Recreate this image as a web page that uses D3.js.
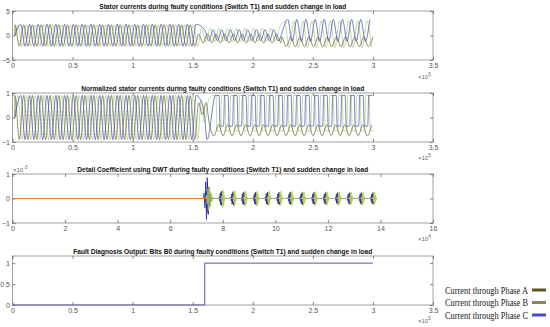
<!DOCTYPE html>
<html>
<head>
<meta charset="utf-8">
<script src="https://cdn.jsdelivr.net/npm/d3@7"></script>
<style>
  body { margin: 0; background: #fff; }
  svg { display: block; }
</style>
</head>
<body>
<div id="chart"></div>
<script>
// ---- data ----
const titles = [
  "Stator currents during faulty conditions (Switch T1) and sudden change in load",
  "Normalized stator currents during faulty conditions (Switch T1) and sudden change in load",
  "Detail Coefficient using DWT during faulty conditions (Switch T1) and sudden change in load",
  "Fault Diagnosis Output: Bits B0 during faulty conditions (Switch T1) and sudden change in load"
];
const phases = ["Current through Phase A", "Current through Phase B", "Current through Phase C"];

const timeTicks = [0, 0.5, 1, 1.5, 2, 2.5, 3, 3.5];      // x 10^5
const sampleTicks = [0, 2, 4, 6, 8, 10, 12, 14, 16];     // x 10^4

// stator currents, one entry per operating stage
const statorStart = [0.02, 1.55, 2.24];
const statorEnd = [1.55, 2.24, 3.0];
const statorPeriod = [0.073, 0.072, 0.076];
const statorShape = ["sine", "sine", "sine"];
const statorHighA = [2.2, 0.3, -0.3];
const statorLowA = [-2.2, -1.5, -2.3];
const statorHighB = [2.2, 1.5, 3.0];
const statorLowB = [-2.2, -1.3, -2.5];
const statorHighC = [2.3, 1.2, 3.3];
const statorLowC = [-2.2, -1.1, -1.2];

// normalized currents
const normStart = [0.02, 1.55, 1.64];
const normEnd = [1.55, 1.64, 3.0];
const normPeriod = [0.073, 0.06, 0.075];
const normShapeA = ["sine", "sine", "sine"];
const normShapeB = ["sine", "sine", "square"];
const normShapeC = ["sine", "sine", "square"];
const normHighA = [0.9, 0.6, -0.3];
const normLowA = [-0.9, 0.1, -0.75];
const normHighB = [0.9, 0.7, 0.9];
const normLowB = [-0.9, -0.2, -0.55];
const normHighC = [0.9, 0.4, 0.9];
const normLowC = [-0.9, -0.9, -0.35];

// DWT detail coefficient bursts (x 10^4 samples, x 10^-3)
const burstTimes = [7.45, 7.97, 8.41, 8.82, 9.27, 9.72, 10.16, 10.59, 11.04, 11.49, 11.93, 12.39, 12.84, 13.29, 13.73];
const burstAmpA = [-0.65, -0.3, -0.28, -0.27, -0.27, -0.26, -0.26, -0.26, -0.25, -0.25, -0.25, -0.24, -0.24, -0.24, -0.24];
const burstAmpB = [0.5, 0.36, 0.32, 0.31, 0.3, 0.3, 0.3, 0.29, 0.29, 0.28, 0.28, 0.28, 0.27, 0.27, 0.27];
const burstAmpC = [0.85, 0.25, 0.23, 0.23, 0.22, 0.22, 0.22, 0.21, 0.21, 0.21, 0.2, 0.2, 0.2, 0.2, 0.2];
const burstLag = [0, 0.05, -0.04];
const burstShape = [0, 0.25, -0.45, 0.8, -1, 1, -0.7, 0.5, -0.3, 0.15, 0];
const coefEnd = 13.85;
const coefQuietEnd = 7.35;

// fault diagnosis bit
const faultTime = [0, 1.6, 1.6, 3.0];
const faultBit = [0, 0, 1, 1];

// ---- layout ----
const width = 550, height = 327;
const left = 12.5, right = 433;
const panelTop = [11, 93, 174, 256];
const panelHeight = 49;
const lineColors = ["#6f6a30", "#a9cc8a", "#5050ac"];
const coefColors = ["#3a3920", "#b5cf55", "#2d2db8"];
const legendColors = ["#5e5422", "#8e8258", "#4b4bc8"];

const svg = d3.select("#chart")
  .append("svg")
    .attr("width", width)
    .attr("height", height)
    .style("font-family", "Arial, 'Liberation Sans', sans-serif");

const buildWave = (starts, ends, periods, highs, lows, shapes, shift) => {
  const pts = [[starts[0], 0]];
  starts.forEach((t0, s) => {
    const half = periods[s] / 2;
    let k = 0;
    for (let t = t0 + shift * periods[s]; t < ends[s]; t += half, k++) {
      const v = k % 2 === 0 ? highs[s] : lows[s];
      if (shapes[s] === "square") {
        pts.push([t, v], [t + half * 0.78, v]);
      } else {
        pts.push([t, v]);
      }
    }
  });
  return pts;
};

const buildCoef = (amps, lag) => {
  const pts = [[0, 0]];
  burstTimes.forEach((t, i) => {
    const w = i === 0 ? 0.3 : 0.15;
    burstShape.forEach((f, j) => {
      pts.push([t + lag - w / 2 + w * j / (burstShape.length - 1), f * amps[i]]);
    });
  });
  pts.push([coefEnd, 0]);
  return pts;
};

const drawPanel = (i, xDomain, yDomain, xTicks, yTicks) => {
  const top = panelTop[i];
  const bottom = top + panelHeight;
  const x = d3.scaleLinear().domain(xDomain).range([left, right]);
  const y = d3.scaleLinear().domain(yDomain).range([bottom, top]);
  const g = svg.append("g");

  g.append("rect")
    .attr("x", left)
    .attr("y", top)
    .attr("width", right - left)
    .attr("height", panelHeight)
    .attr("fill", "#fff")
    .attr("stroke", "#8a8a8a")
    .attr("stroke-width", 0.8);

  const axes = [
    [d3.axisBottom(x).tickValues(xTicks).tickPadding(3.5).tickFormat(d3.format("~g")), `translate(0,${bottom})`],
    [d3.axisTop(x).tickValues(xTicks).tickFormat(""), `translate(0,${top})`],
    [d3.axisLeft(y).tickValues(yTicks).tickPadding(2.5).tickFormat(d3.format("~g")), `translate(${left},0)`],
    [d3.axisRight(y).tickValues(yTicks).tickFormat(""), `translate(${right},0)`]
  ];
  axes.forEach(([axis, tr]) => {
    const a = g.append("g")
      .attr("transform", tr)
      .call(axis.tickSizeInner(-3).tickSizeOuter(0))
      .attr("font-size", 7)
      .attr("font-family", "Arial, 'Liberation Sans', sans-serif");
    a.select(".domain").remove();
    a.selectAll("line").attr("stroke", "#555").attr("stroke-width", 0.7);
    a.selectAll("text").attr("fill", "#555");
  });

  g.append("text")
    .attr("class", "title")
    .text(titles[i])
    .attr("x", (left + right) / 2)
    .attr("y", top - 2.5)
    .attr("text-anchor", "middle")
    .attr("font-size", 7)
    .attr("font-weight", "bold")
    .attr("fill", "#111");

  return { g, x, y };
};

const exponent = (xPos, yPos, power, anchor) => {
  const t = svg.append("text")
    .attr("x", xPos)
    .attr("y", yPos)
    .attr("text-anchor", anchor)
    .attr("font-size", 6)
    .attr("fill", "#666");
  t.append("tspan").text("\u00d710");
  t.append("tspan").text(power).attr("dy", -3).attr("font-size", 5);
};

const titleWidths = [247, 283, 291, 299];

const panels = [
  drawPanel(0, [0, 3.5], [-5, 5], timeTicks, [-5, 0, 5]),
  drawPanel(1, [0, 3.5], [-1, 1], timeTicks, [-1, 0, 1]),
  drawPanel(2, [0, 16], [-1, 1], sampleTicks, [-1, 0, 1]),
  drawPanel(3, [0, 3.5], [0, 1.17], timeTicks, [0, 0.5, 1])
];
svg.selectAll("text.title")
  .attr("textLength", (d, i) => titleWidths[i])
  .attr("lengthAdjust", "spacingAndGlyphs");

// panel 1: stator currents
const statorHigh = [statorHighA, statorHighB, statorHighC];
const statorLow = [statorLowA, statorLowB, statorLowC];
const p1 = panels[0];
const line1 = d3.line().x(d => p1.x(d[0])).y(d => p1.y(d[1])).curve(d3.curveMonotoneX);
[1, 0, 2].forEach(k => {
  p1.g.append("path")
    .attr("d", line1(buildWave(statorStart, statorEnd, statorPeriod, statorHigh[k], statorLow[k], statorShape, k / 3)))
    .attr("fill", "none")
    .attr("stroke", lineColors[k])
    .attr("stroke-width", 0.75);
});

// panel 2: normalized currents
const normHigh = [normHighA, normHighB, normHighC];
const normLow = [normLowA, normLowB, normLowC];
const normShape = [normShapeA, normShapeB, normShapeC];
const p2 = panels[1];
const line2 = d3.line().x(d => p2.x(d[0])).y(d => p2.y(d[1])).curve(d3.curveMonotoneX);
[1, 0, 2].forEach(k => {
  p2.g.append("path")
    .attr("d", line2(buildWave(normStart, normEnd, normPeriod, normHigh[k], normLow[k], normShape[k], k / 3)))
    .attr("fill", "none")
    .attr("stroke", lineColors[k])
    .attr("stroke-width", 0.75);
});

// panel 3: detail coefficients (blue under green, as in the figure)
const p3 = panels[2];
const line3 = d3.line().x(d => p3.x(d[0])).y(d => p3.y(d[1]));
const coefAmps = [burstAmpA, burstAmpB, burstAmpC];
[0, 2, 1].forEach(k => {
  p3.g.append("path")
    .attr("d", line3(buildCoef(coefAmps[k], burstLag[k])))
    .attr("fill", "none")
    .attr("stroke", coefColors[k])
    .attr("stroke-width", 0.8);
});
p3.g.append("path")
  .attr("d", line3([[0, 0], [coefQuietEnd, 0]]))
  .attr("stroke", "#e8793c")
  .attr("stroke-width", 0.9);

// panel 4: fault bit
const p4 = panels[3];
p4.g.append("path")
  .attr("d", d3.line().x((d, i) => p4.x(faultTime[i])).y(d => p4.y(d))(faultBit))
  .attr("fill", "none")
  .attr("stroke", "#5656a8")
  .attr("stroke-width", 1);

exponent(431, 79, "5", "end");
exponent(431, 160, "5", "end");
exponent(431, 241, "4", "end");
exponent(431, 323, "5", "end");
exponent(13, 172, "-3", "start");

// legend
const legend = svg.append("g")
  .selectAll("g")
  .data(phases)
  .join("g")
  .attr("transform", (d, i) => `translate(445, ${290 + i * 12.5})`);

legend.append("text")
  .text(d => d)
  .attr("y", 3.5)
  .attr("textLength", 83)
  .attr("lengthAdjust", "spacingAndGlyphs")
  .style("font-family", "'Liberation Serif', 'DejaVu Serif', serif")
  .style("font-size", "10.5px")
  .attr("fill", "#222");

legend.append("rect")
  .attr("x", 87)
  .attr("y", -1.5)
  .attr("width", 14)
  .attr("height", 3)
  .attr("fill", (d, i) => legendColors[i]);
</script>
</body>
</html>
